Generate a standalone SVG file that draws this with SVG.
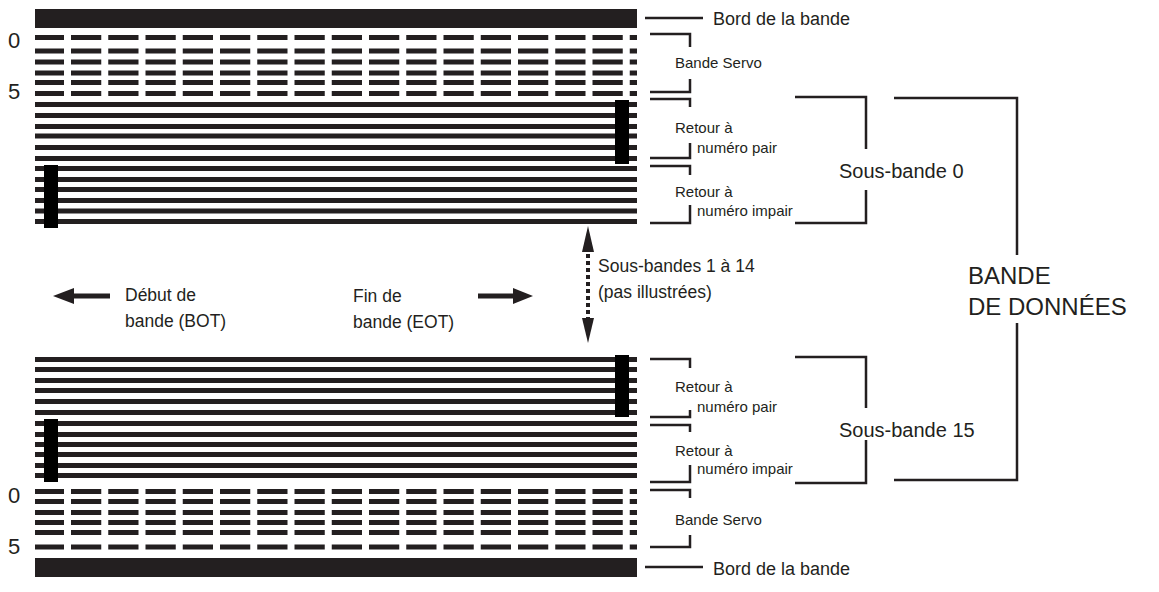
<svg xmlns="http://www.w3.org/2000/svg" width="1159" height="592" viewBox="0 0 1159 592">
<style>
.t{font-family:"Liberation Sans",Arial,sans-serif;fill:#231f20}
.sm{font-size:15px}
.d{stroke:#231f20;stroke-width:5}
.s{stroke:#231f20;stroke-width:5;stroke-dasharray:30.25 7;stroke-dashoffset:1.25}
.b{fill:none;stroke:#231f20;stroke-width:2.5}
</style>
<rect width="1159" height="592" fill="#fff"/>
<g id="bande-haut">
<rect x="35" y="9" width="602" height="19" fill="#231f20"/>
<g class="s">
<line x1="35" y1="37.5" x2="637" y2="37.5"/><line x1="35" y1="51" x2="637" y2="51"/><line x1="35" y1="62" x2="637" y2="62"/><line x1="35" y1="73" x2="637" y2="73"/><line x1="35" y1="82.5" x2="637" y2="82.5"/><line x1="35" y1="93.5" x2="637" y2="93.5"/>
</g>
<g class="d">
<line x1="35" y1="104.5" x2="637" y2="104.5"/><line x1="35" y1="115.5" x2="637" y2="115.5"/><line x1="35" y1="126.5" x2="637" y2="126.5"/><line x1="35" y1="136" x2="637" y2="136"/><line x1="35" y1="147.5" x2="637" y2="147.5"/><line x1="35" y1="158.5" x2="637" y2="158.5"/><line x1="35" y1="168.5" x2="637" y2="168.5"/><line x1="35" y1="179.5" x2="637" y2="179.5"/><line x1="35" y1="189.5" x2="637" y2="189.5"/><line x1="35" y1="200.5" x2="637" y2="200.5"/><line x1="35" y1="211" x2="637" y2="211"/><line x1="35" y1="221.5" x2="637" y2="221.5"/>
</g>
<rect x="44" y="165" width="14" height="63" fill="#000"/>
<rect x="615" y="100" width="14" height="64" fill="#000"/>
<text class="t" x="8" y="48" font-size="22">0</text>
<text class="t" x="8" y="99" font-size="22">5</text>
</g>
<g id="bande-bas">
<g class="d">
<line x1="35" y1="359.5" x2="637" y2="359.5"/><line x1="35" y1="369.5" x2="637" y2="369.5"/><line x1="35" y1="380.5" x2="637" y2="380.5"/><line x1="35" y1="390.5" x2="637" y2="390.5"/><line x1="35" y1="401.5" x2="637" y2="401.5"/><line x1="35" y1="412.5" x2="637" y2="412.5"/><line x1="35" y1="423.5" x2="637" y2="423.5"/><line x1="35" y1="434.5" x2="637" y2="434.5"/><line x1="35" y1="444.5" x2="637" y2="444.5"/><line x1="35" y1="454.5" x2="637" y2="454.5"/><line x1="35" y1="465.5" x2="637" y2="465.5"/><line x1="35" y1="475.5" x2="637" y2="475.5"/>
</g>
<g class="s">
<line x1="35" y1="491.5" x2="637" y2="491.5"/><line x1="35" y1="501.5" x2="637" y2="501.5"/><line x1="35" y1="512.5" x2="637" y2="512.5"/><line x1="35" y1="522.5" x2="637" y2="522.5"/><line x1="35" y1="532.5" x2="637" y2="532.5"/><line x1="35" y1="547" x2="637" y2="547"/>
</g>
<rect x="35" y="558" width="602" height="19" fill="#231f20"/>
<rect x="44" y="419" width="14" height="63" fill="#000"/>
<rect x="615" y="355" width="14" height="62" fill="#000"/>
<text class="t" x="8" y="503" font-size="22">0</text>
<text class="t" x="8" y="554" font-size="22">5</text>
</g>
<g id="connecteurs">
<g class="b">
<line x1="645" y1="18" x2="703" y2="18"/>
<line x1="645" y1="567" x2="703" y2="567"/>
<polyline points="650,34 690,34 690,47"/><polyline points="650,92 690,92 690,79"/>
<polyline points="650,99 690,99 690,107"/><polyline points="650,158 690,158 690,143"/>
<polyline points="650,166 690,166 690,175"/><polyline points="650,223 690,223 690,205"/>
<polyline points="650,359 690,359 690,368"/><polyline points="650,417 690,417 690,410"/>
<polyline points="650,425 690,425 690,432"/><polyline points="650,482 690,482 690,465"/>
<polyline points="650,490 690,490 690,498"/><polyline points="650,547 690,547 690,535"/>
<polyline points="795,97 866,97 866,149"/><polyline points="795,223 866,223 866,190"/>
<polyline points="795,357 866,357 866,408"/><polyline points="795,483 866,483 866,440"/>
<polyline points="894,98 1017,98 1017,255"/><polyline points="894,480 1017,480 1017,323"/>
</g>
<line x1="72" y1="296" x2="110" y2="296" stroke="#231f20" stroke-width="5"/>
<polygon points="53,296 74,288 74,304" fill="#231f20"/>
<line x1="478" y1="296" x2="515" y2="296" stroke="#231f20" stroke-width="5"/>
<polygon points="533,296 513,288 513,304" fill="#231f20"/>
<line x1="588" y1="254" x2="588" y2="318" stroke="#231f20" stroke-width="4" stroke-dasharray="4 3"/>
<polygon points="588,226 582,252 594,252" fill="#231f20"/>
<polygon points="588,343 582,318 594,318" fill="#231f20"/>
</g>
<g id="etiquettes">
<text class="t" x="713" y="25" font-size="18">Bord de la bande</text>
<text class="t" x="713" y="575" font-size="18">Bord de la bande</text>
<text class="t sm" x="675" y="68">Bande Servo</text>
<text class="t sm" x="675" y="133">Retour à</text><text class="t sm" x="697" y="153">numéro pair</text>
<text class="t sm" x="675" y="197">Retour à</text><text class="t sm" x="697" y="216">numéro impair</text>
<text class="t sm" x="675" y="392">Retour à</text><text class="t sm" x="697" y="412">numéro pair</text>
<text class="t sm" x="675" y="456">Retour à</text><text class="t sm" x="697" y="474">numéro impair</text>
<text class="t sm" x="675" y="525">Bande Servo</text>
<text class="t" x="839" y="178" font-size="20">Sous-bande 0</text>
<text class="t" x="839" y="437" font-size="20">Sous-bande 15</text>
<text class="t" x="968" y="284" font-size="24">BANDE</text>
<text class="t" x="968" y="315" font-size="24">DE DONNÉES</text>
<text class="t" x="125" y="301" font-size="17.5">Début de</text>
<text class="t" x="125" y="327" font-size="17.5">bande (BOT)</text>
<text class="t" x="353" y="302" font-size="17.5">Fin de</text>
<text class="t" x="353" y="328" font-size="17.5">bande (EOT)</text>
<text class="t" x="598" y="272" font-size="17.5">Sous-bandes 1 à 14</text>
<text class="t" x="598" y="298" font-size="17.5">(pas illustrées)</text>
</g>
</svg>
